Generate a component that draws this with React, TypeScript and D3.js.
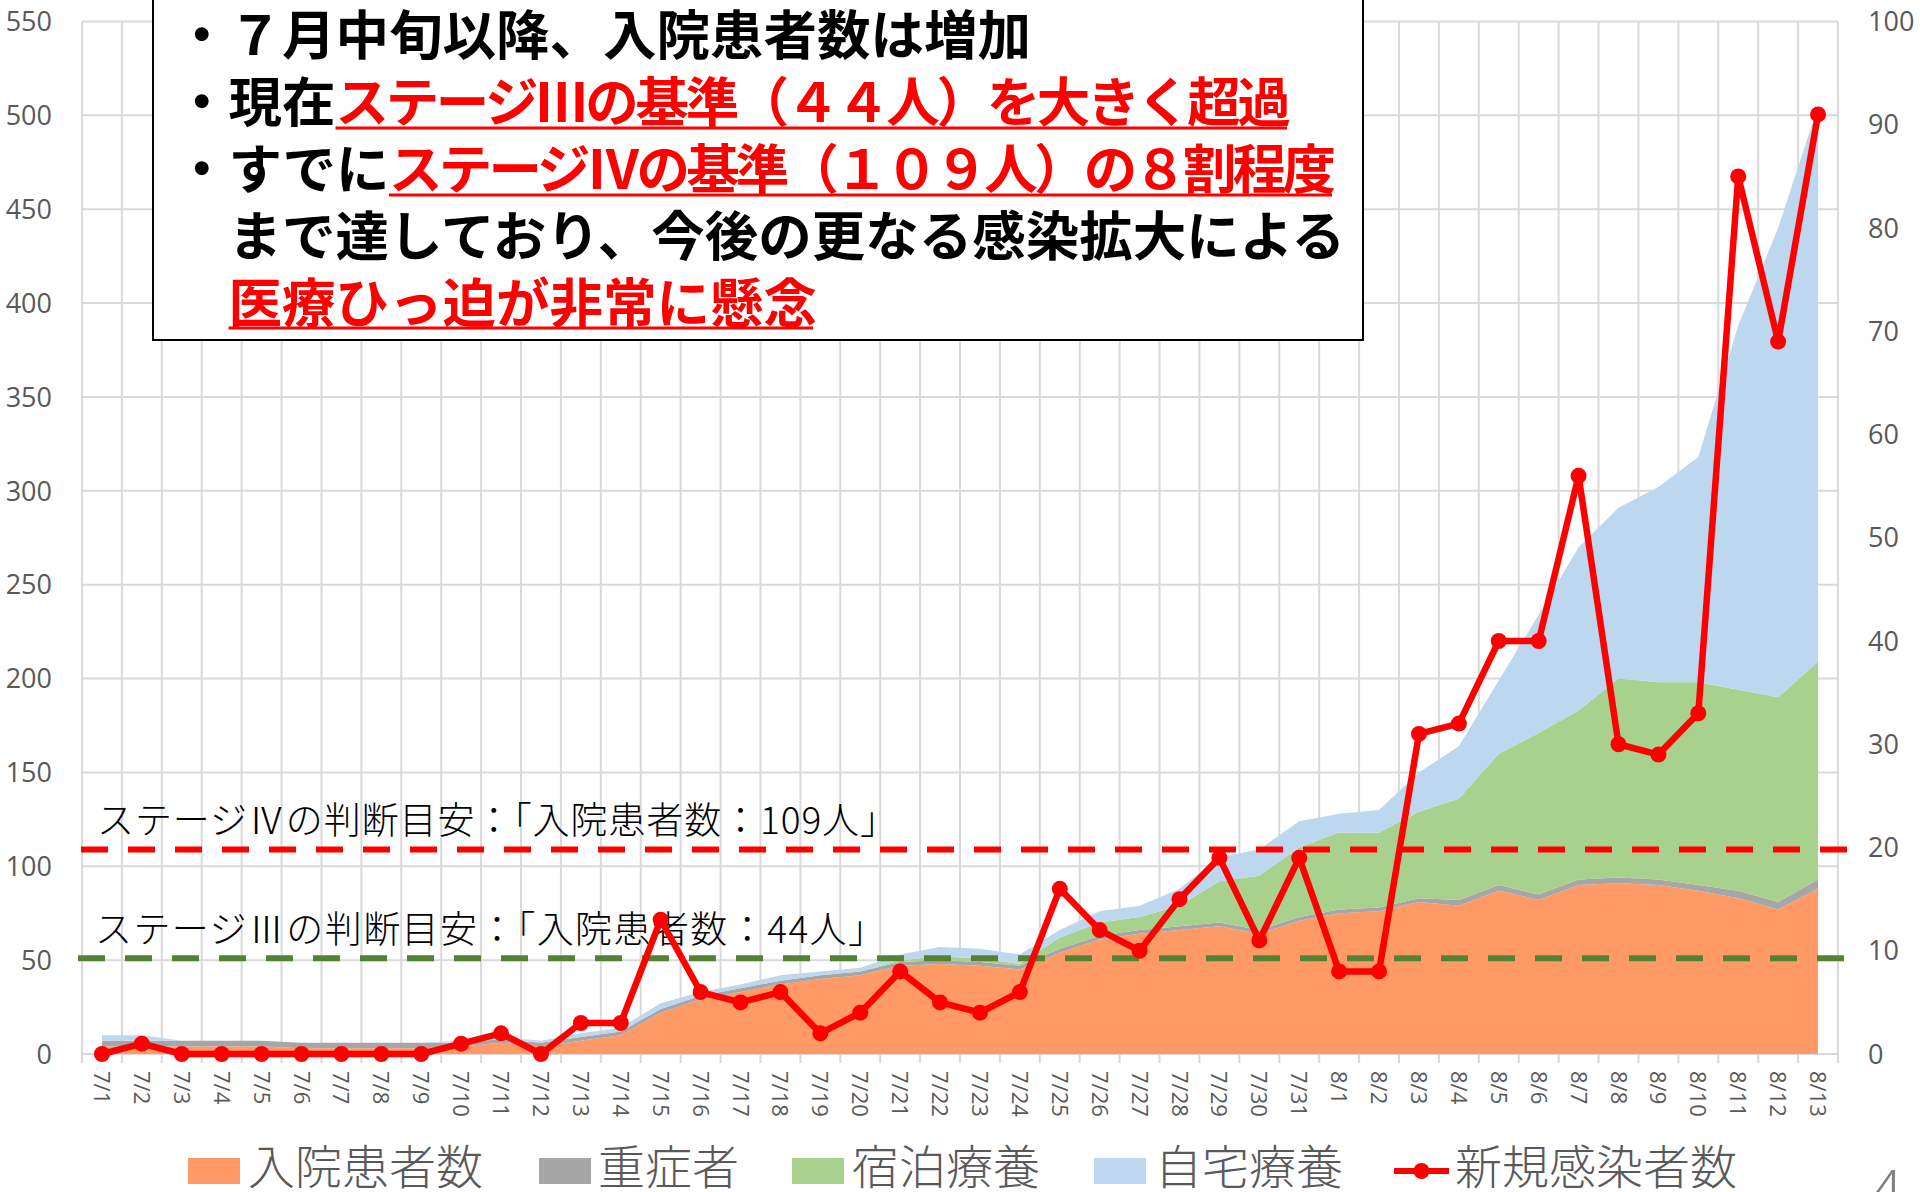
import React from 'react';
import * as d3 from 'd3';

// ---------- data ----------
const dates = [
  '7/1','7/2','7/3','7/4','7/5','7/6','7/7','7/8','7/9','7/10','7/11','7/12','7/13','7/14','7/15','7/16',
  '7/17','7/18','7/19','7/20','7/21','7/22','7/23','7/24','7/25','7/26','7/27','7/28','7/29','7/30','7/31',
  '8/1','8/2','8/3','8/4','8/5','8/6','8/7','8/8','8/9','8/10','8/11','8/12','8/13',
];
// 入院患者数
const hospitalized = [4,4,4,4,4,3,3,3,3,4,6,4,7,10,22,29,33,37,40,42,47,48,47,45,54,61,64,66,68,64,71,75,76,81,79,87,82,90,91,90,87,83,77,88];
// 重症者
const severe = [3,3,3,3,3,3,3,3,3,2,2,2,2,2,2,2,2,2,2,2,2,2,2,2,2,2,2,2,2,2,2,2,2,2,3,3,3,3,3,3,3,4,4,5];
// 宿泊療養
const hotel = [0,0,0,0,0,0,0,0,0,0,0,0,0,0,0,0,0,0,0,0,1,2,2,1,6,7,7,11,22,29,37,41,40,46,54,70,86,90,106,105,108,107,109,116];
// 自宅療養
const home = [3,3,0,0,0,0,0,0,0,1,1,1,2,2,3,2,2,3,2,2,3,5,5,5,4,6,6,9,13,14,14,10,12,21,28,39,63,87,91,104,120,194,250,296];
// 新規感染者数 (right axis)
const newCases = [0,1,0,0,0,0,0,0,0,1,2,0,3,3,13,6,5,6,2,4,8,5,4,6,16,12,10,15,19,11,19,8,8,31,32,40,40,56,30,29,33,85,69,91];

const leftTicks = [0,50,100,150,200,250,300,350,400,450,500,550];
const rightTicks = [0,10,20,30,40,50,60,70,80,90,100];

const seriesKeys = ['hosp','severe','hotel','home'];
const seriesNames = ['入院患者数','重症者','宿泊療養','自宅療養','新規感染者数'];

const thresholdLabels = ['ステージⅣの判断目安：「入院患者数：109人」','ステージⅢの判断目安：「入院患者数：44人」'];
const thresholdValues = [109, 51];

const noteLines = [
  [{ t: '・７月中旬以降、入院患者数は増加', red: false }],
  [{ t: '・現在', red: false }, { t: 'ステージⅢの基準（４４人）を大きく超過', red: true }],
  [{ t: '・すでに', red: false }, { t: 'ステージⅣの基準（１０９人）の８割程度', red: true }],
  [{ t: '　まで達しており、今後の更なる感染拡大による', red: false }],
  [{ t: '　', red: false }, { t: '医療ひっ迫が非常に懸念', red: true }],
];

// ---------- styles ----------
const fills = ['#FF9966', '#A6A6A6', '#A9D18E', '#BDD7EE'];
const RED = '#FF0000';
const GREEN_DASH = '#548235';
const GRID = '#D9D9D9';
const AXIS_TEXT = '#595959';
const JP = '"Noto Sans CJK JP", "Noto Sans", sans-serif';
const NUM = '"Open Sans", "Noto Sans", sans-serif';

export default function App() {
  const W = 1920, H = 1192;
  const x = d3.scaleBand<string>().domain(dates).range([82, 1838]).paddingInner(0).paddingOuter(0);
  const bw = x.bandwidth();
  const cx = (i: number) => (x(dates[i]) as number) + bw / 2;
  const y = d3.scaleLinear().domain([0, 550]).range([1054, 21.5]);
  const yR = d3.scaleLinear().domain([0, 100]).range([1054, 21.5]);

  const table = dates.map((d, i) => ({
    date: d, hosp: hospitalized[i], severe: severe[i], hotel: hotel[i], home: home[i],
  }));
  const stacked = d3.stack<any>().keys(seriesKeys)(table);
  const area = d3.area<any>()
    .x((_d, i) => cx(i))
    .y0((d) => y(d[0]))
    .y1((d) => y(d[1]));
  const line = d3.line<number>().x((_d, i) => cx(i)).y((d) => yR(d));

  const boundaries = dates.map((d) => x(d) as number).concat([x.range()[1]]);
  const [xl, xr] = x.range();

  // annotation layout
  const em = 53.5;
  const lineStartX = 175;
  const lineCenters = [31.5, 98.5, 165, 232, 299];
  const underlineY = [0, 128, 195, 0, 328];
  const redRight: (number | null)[] = [null, 1291, 1336, null, null];

  // legend layout
  const legendKeyX = [188, 539, 792, 1094];
  const legendTextX = [248, 598, 852, 1155, 1455];
  const legendY = 1163;

  return (
    <svg width={W} height={H} viewBox={`0 0 ${W} ${H}`}
      style={{ position: 'absolute', left: 0, top: 0, background: '#fff' }}>
      <rect x={0} y={0} width={W} height={H} fill="#fff" />
      {/* gridlines */}
      <g stroke={GRID} strokeWidth={2}>
        {leftTicks.map((t) => (
          <line key={'h' + t} x1={xl} x2={xr} y1={y(t)} y2={y(t)} />
        ))}
        {boundaries.map((bx, i) => (
          <line key={'v' + i} x1={bx} x2={bx} y1={y(550)} y2={y(0) + 9} />
        ))}
      </g>

      {/* stacked areas */}
      {stacked.map((s, i) => (
        <path key={s.key} d={area(s as any) || ''} fill={fills[i]} />
      ))}

      {/* threshold labels */}
      {thresholdLabels.map((lab, i) => (
        <text key={lab} x={i === 0 ? 97 : 95} y={y(thresholdValues[i]) - 31}
          dominantBaseline="central" fontFamily={JP} fontWeight={300} fontSize={37} fill="#000"
          textLength={i === 0 ? 800 : 790} lengthAdjust="spacing">
          {lab}
        </text>
      ))}

      {/* threshold dashed lines */}
      <line x1={81} x2={1849} y1={y(thresholdValues[0])} y2={y(thresholdValues[0])}
        stroke={RED} strokeWidth={6} strokeDasharray="27 20" />
      <line x1={78} x2={1847} y1={y(thresholdValues[1])} y2={y(thresholdValues[1])}
        stroke={GREEN_DASH} strokeWidth={6} strokeDasharray="27 20" />

      {/* new cases line */}
      <path d={line(newCases) || ''} fill="none" stroke={RED} strokeWidth={6.5} strokeLinejoin="round" />
      {newCases.map((v, i) => (
        <circle key={'m' + i} cx={cx(i)} cy={yR(v)} r={8} fill={RED} />
      ))}

      {/* left axis labels */}
      {leftTicks.map((t) => (
        <text key={'lt' + t} x={52} y={y(t)} dy="0.36em" textAnchor="end"
          fontFamily={NUM} fontSize={27} fill={AXIS_TEXT}>{t}</text>
      ))}
      {/* right axis labels */}
      {rightTicks.map((t) => (
        <text key={'rt' + t} x={1868} y={yR(t)} dy="0.36em" textAnchor="start"
          fontFamily={NUM} fontSize={27} fill={AXIS_TEXT}>{t}</text>
      ))}
      {/* x labels */}
      {dates.map((d, i) => (
        <text key={'xl' + d} transform={`translate(${cx(i)},${1071}) rotate(90)`} dy="0.36em"
          textAnchor="start" fontFamily={NUM} fontSize={22} fill={AXIS_TEXT}>{d}</text>
      ))}

      {/* annotation box */}
      <rect x={153} y={-10} width={1210} height={350} fill="#fff" stroke="#000" strokeWidth={2} />
      {noteLines.map((segs, li) => {
        let cursor = lineStartX;
        return (
          <g key={'nl' + li}>
            {segs.map((s, si) => {
              const start = cursor;
              const fit = s.red && redRight[li] != null ? (redRight[li] as number) - start : null;
              const width = fit ?? s.t.length * em;
              cursor = start + width;
              return (
                <g key={si}>
                  <text x={start} y={lineCenters[li]} dominantBaseline="central" fontFamily={JP}
                    fontWeight={700} fontSize={em} fill={s.red ? RED : '#000'}
                    {...(fit ? { textLength: fit, lengthAdjust: 'spacing' } : {})}>
                    {s.t}
                  </text>
                  {s.red && (
                    <line x1={start} x2={start + width - 4} y1={underlineY[li]} y2={underlineY[li]}
                      stroke={RED} strokeWidth={3} />
                  )}
                </g>
              );
            })}
          </g>
        );
      })}

      {/* legend */}
      {fills.map((f, i) => (
        <rect key={'lk' + i} x={legendKeyX[i]} y={1158} width={52} height={26} fill={f} />
      ))}
      <line x1={1394} x2={1449} y1={1171} y2={1171} stroke={RED} strokeWidth={6} />
      <circle cx={1421.5} cy={1171} r={8} fill={RED} />
      {seriesNames.map((n, i) => (
        <text key={'lt' + n} x={legendTextX[i]} y={legendY} dominantBaseline="central"
          fontFamily={JP} fontWeight={300} fontSize={47} fill={AXIS_TEXT}>{n}</text>
      ))}

      {/* page number */}
      <text x={1868} y={1215} fontFamily={NUM} fontWeight={300} fontSize={62} fill="#7F7F7F">4</text>
    </svg>
  );
}
